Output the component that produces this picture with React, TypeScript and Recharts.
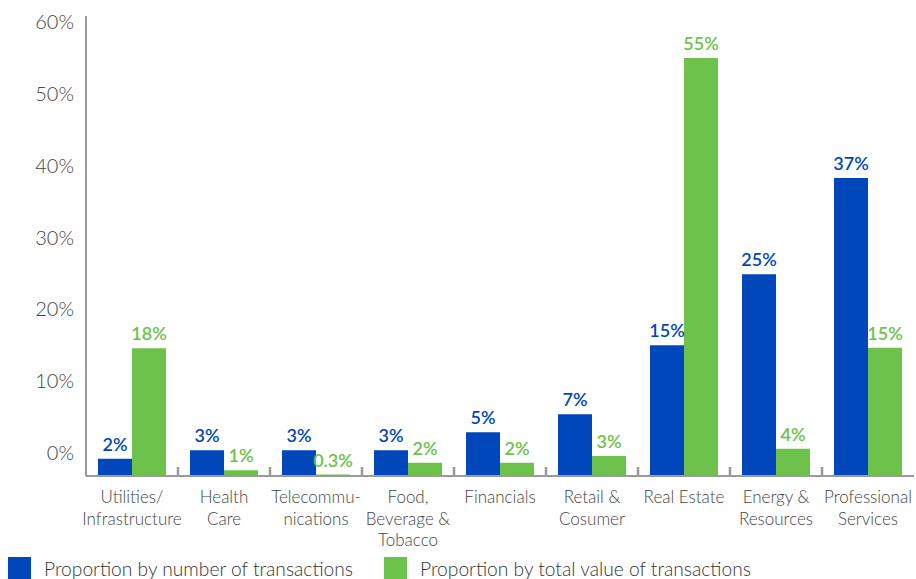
import React from 'react';
import { BarChart, Bar, XAxis, YAxis, LabelList, Legend } from 'recharts';

const BLUE = '#0047BB';
const GREEN = '#6CC24A';
const AXIS = '#9a9a9a';
const TEXT = '#444444';
const FONT = 'Lato, "Open Sans", sans-serif';

// categories (line breaks as in the picture)
const categories = [
  'Utilities/\nInfrastructure',
  'Health\nCare',
  'Telecommu-\nnications',
  'Food,\nBeverage &\nTobacco',
  'Financials',
  'Retail &\nCosumer',
  'Real Estate',
  'Energy &\nResources',
  'Professional\nServices',
];

// printed labels
const countLabels = ['2%', '3%', '3%', '3%', '5%', '7%', '15%', '25%', '37%'];
const valueLabels = ['18%', '1%', '0.3%', '2%', '2%', '3%', '55%', '4%', '15%'];

// bar heights as drawn, measured from the bar baseline (in % units)
const countBars = [2.4, 3.6, 3.6, 3.6, 6.1, 8.6, 18.2, 28.1, 41.5];
const valueBars = [17.8, 0.8, 0.2, 1.85, 1.85, 2.8, 58.2, 3.8, 17.85];

const yTicks = [0, 10, 20, 30, 40, 50, 60];

// the printed axis sits a little above the bar baseline in the original
const Y_MIN = -3.2;
const Y_MAX = 60.84;
const BAR_MAX = 64.04;

const data = categories.map((name, i) => ({
  name,
  count: countBars[i],
  value: valueBars[i],
  countLabel: countLabels[i],
  valueLabel: valueLabels[i],
}));

function CategoryTick({ x, y, payload, index, width, visibleTicksCount }: any) {
  const lines = String(payload.value).split('\n');
  const half = width / (visibleTicksCount || categories.length) / 2;
  return (
    <g>
      {index > 0 && (
        <line x1={x - half} x2={x - half} y1={y} y2={y - 9} stroke={AXIS} strokeWidth={2.5} />
      )}
      <text x={x} y={y} textAnchor="middle" fill={TEXT} fontFamily={FONT} fontSize={17} fontWeight={300}>
        {lines.map((line, i) => (
          <tspan key={i} x={x} dy={i === 0 ? 27 : 21.5}>
            {line}
          </tspan>
        ))}
      </text>
    </g>
  );
}

function LegendBox() {
  const items = [
    { label: 'Proportion by number of transactions', color: BLUE, left: 8 },
    { label: 'Proportion by total value of transactions', color: GREEN, left: 384 },
  ];
  return (
    <div style={{ position: 'relative', height: 24, fontFamily: FONT, fontWeight: 300, fontSize: 19.2, color: '#333' }}>
      {items.map((item) => (
        <div key={item.label} style={{ position: 'absolute', left: item.left, top: 2, display: 'flex', whiteSpace: 'nowrap' }}>
          <span style={{ width: 23, height: 23, background: item.color, display: 'inline-block' }} />
          <span style={{ marginLeft: 13, lineHeight: '23px' }}>{item.label}</span>
        </div>
      ))}
    </div>
  );
}

export default function App() {
  return (
    <div style={{ position: 'absolute', left: 0, top: 0, background: '#fff' }}>
      <BarChart
        width={916}
        height={579}
        data={data}
        margin={{ top: 16, right: 2, left: 0, bottom: 0 }}
        barCategoryGap={12}
        barGap={0}
      >
        <XAxis
          xAxisId="cat"
          dataKey="name"
          interval={0}
          tickLine={false}
          tickSize={0}
          tickMargin={0}
          axisLine={{ stroke: AXIS, strokeWidth: 2 }}
          tick={<CategoryTick />}
          height={79}
        />
        <YAxis
          yAxisId="pct"
          type="number"
          domain={[Y_MIN, Y_MAX]}
          ticks={yTicks}
          allowDataOverflow
          width={86}
          tickLine={false}
          tickSize={0}
          tickMargin={12}
          axisLine={{ stroke: AXIS, strokeWidth: 2 }}
          tickFormatter={(v) => `${v}%`}
          tick={{ fill: TEXT, fontSize: 20, fontFamily: FONT, fontWeight: 300 }}
        />
        <YAxis yAxisId="bar" orientation="right" width={0} hide type="number" domain={[0, BAR_MAX]} allowDataOverflow />
        <Legend
          verticalAlign="bottom"
          align="left"
          height={24}
          content={<LegendBox />}
          wrapperStyle={{ left: 0, bottom: 0, width: 916, height: 24 }}
        />
        <Bar xAxisId="cat" yAxisId="bar" dataKey="count" fill={BLUE} isAnimationActive={false}>
          <LabelList dataKey="countLabel" position="top" offset={8} fill={BLUE} fontSize={18} fontWeight={600} fontFamily={FONT} />
        </Bar>
        <Bar xAxisId="cat" yAxisId="bar" dataKey="value" fill={GREEN} isAnimationActive={false}>
          <LabelList dataKey="valueLabel" position="top" offset={8} fill={GREEN} fontSize={18} fontWeight={600} fontFamily={FONT} />
        </Bar>
      </BarChart>
    </div>
  );
}
